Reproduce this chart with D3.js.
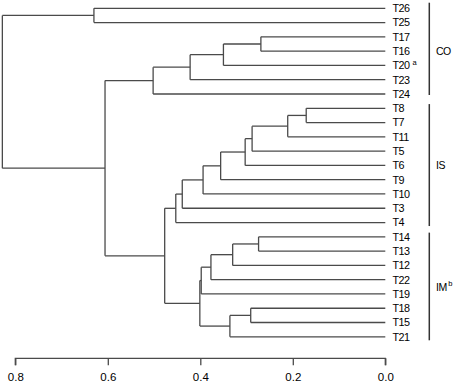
<!DOCTYPE html>
<html>
<head>
<meta charset="utf-8">
<script src="https://cdn.jsdelivr.net/npm/d3@7"></script>
<style>
  body { margin: 0; background: #fff; }
  text { font-family: "Liberation Sans", Arial, sans-serif; fill: #000; }
</style>
</head>
<body>
<div id="chart"></div>
<script>
// leaf order, top to bottom
const leaves = ["T26", "T25", "T17", "T16", "T20", "T23", "T24",
    "T8", "T7", "T11", "T5", "T6", "T9", "T10", "T3", "T4",
    "T14", "T13", "T12", "T22", "T19", "T18", "T15", "T21"];

// merges: [left, right, height]; "mN" refers to merge N
const merges = [
    ["T17", "T16", 0.269],  // m0
    ["m0", "T20", 0.350],   // m1
    ["m1", "T23", 0.422],   // m2
    ["m2", "T24", 0.502],   // m3
    ["T8", "T7", 0.171],    // m4
    ["m4", "T11", 0.211],   // m5
    ["m5", "T5", 0.288],    // m6
    ["m6", "T6", 0.303],    // m7
    ["m7", "T9", 0.356],    // m8
    ["m8", "T10", 0.394],   // m9
    ["m9", "T3", 0.439],    // m10
    ["m10", "T4", 0.453],   // m11
    ["T14", "T13", 0.274],  // m12
    ["m12", "T12", 0.330],  // m13
    ["m13", "T22", 0.377],  // m14
    ["m14", "T19", 0.398],  // m15
    ["T18", "T15", 0.291],  // m16
    ["m16", "T21", 0.336],  // m17
    ["m15", "m17", 0.401],  // m18
    ["m11", "m18", 0.477],  // m19
    ["m3", "m19", 0.606],   // m20
    ["T26", "T25", 0.630],  // m21
    ["m21", "m20", 0.828]   // m22
];

const superscripts = { "T20": "a" };

const groups = [
    { name: "CO", sup: "", first: "T26", last: "T24" },
    { name: "IS", sup: "", first: "T8", last: "T4" },
    { name: "IM", sup: "b", first: "T14", last: "T21" }
];

const axisTicks = [0.8, 0.6, 0.4, 0.2, 0.0];

const width = 454, height = 386;
const lineColor = "#4a4a4a";

const svg = d3.select("#chart")
    .append("svg")
    .attr("width", width)
    .attr("height", height);

const x = d3.scaleLinear().domain([0, 0.8]).range([385.3, 15.3]);
const y = d3.scalePoint().domain(leaves).range([8.3, 336.8]);

// build node positions
let nodes = {};
leaves.forEach(function(l) { nodes[l] = { h: 0, y: y(l) }; });
merges.forEach(function(m, i) {
    let a = nodes[m[0]], b = nodes[m[1]];
    nodes["m" + i] = { h: m[2], y: (a.y + b.y) / 2, a: a, b: b };
});

let g = svg.append("g")
    .attr("stroke", lineColor)
    .attr("stroke-width", 1.3)
    .attr("fill", "none");

merges.forEach(function(m, i) {
    let n = nodes["m" + i];
    // vertical
    g.append("line")
        .attr("x1", x(n.h)).attr("x2", x(n.h))
        .attr("y1", n.a.y).attr("y2", n.b.y);
    // horizontals to children
    [n.a, n.b].forEach(function(c) {
        g.append("line")
            .attr("x1", x(c.h)).attr("x2", x(n.h))
            .attr("y1", c.y).attr("y2", c.y);
    });
});

// leaf labels
let labels = svg.append("g")
    .selectAll("text")
    .data(leaves)
    .enter()
    .append("text")
    .attr("x", 392.5)
    .attr("y", d => y(d))
    .attr("dy", "0.36em")
    .attr("font-size", 10.8)
    .attr("letter-spacing", -0.5)
    .text(d => d);

labels.filter(d => superscripts[d])
    .append("tspan")
    .attr("dx", 3)
    .attr("dy", -4)
    .attr("font-size", 7.5)
    .text(d => superscripts[d]);

// group brackets
groups.forEach(function(gr, i) {
    let y0 = y(gr.first) - (i === 0 ? 5.6 : 4.2), y1 = y(gr.last) + (i === 0 ? 1 : 3.5);
    svg.append("line")
        .attr("x1", 429.3).attr("x2", 429.3)
        .attr("y1", y0).attr("y2", y1)
        .attr("stroke", "#333")
        .attr("stroke-width", 1.5);
    let t = svg.append("text")
        .attr("x", 436)
        .attr("y", (y(gr.first) + y(gr.last)) / 2)
        .attr("dy", "0.36em")
        .attr("font-size", 10.5)
        .attr("letter-spacing", -0.5)
        .text(gr.name);
    if (gr.sup) {
        t.append("tspan")
            .attr("dx", 1.5)
            .attr("dy", -5)
            .attr("font-size", 7.5)
            .text(gr.sup);
    }
});

// axis
let axis = d3.axisBottom(x)
    .tickValues(axisTicks)
    .tickFormat(d3.format(".1f"))
    .tickSize(7)
    .tickPadding(8);

let ax = svg.append("g")
    .attr("transform", "translate(0,358.3)")
    .call(axis);

ax.select(".domain").attr("stroke", lineColor).attr("stroke-width", 1.3).attr("d", `M${x(0.8)},7V0H${x(0)}V7`);
ax.selectAll(".tick line").attr("stroke", lineColor).attr("stroke-width", 1.3);
ax.selectAll(".tick text")
    .attr("font-size", 11.5)
    .attr("font-family", "Liberation Sans, Arial, sans-serif")
    .attr("fill", "#000");
</script>
</body>
</html>
